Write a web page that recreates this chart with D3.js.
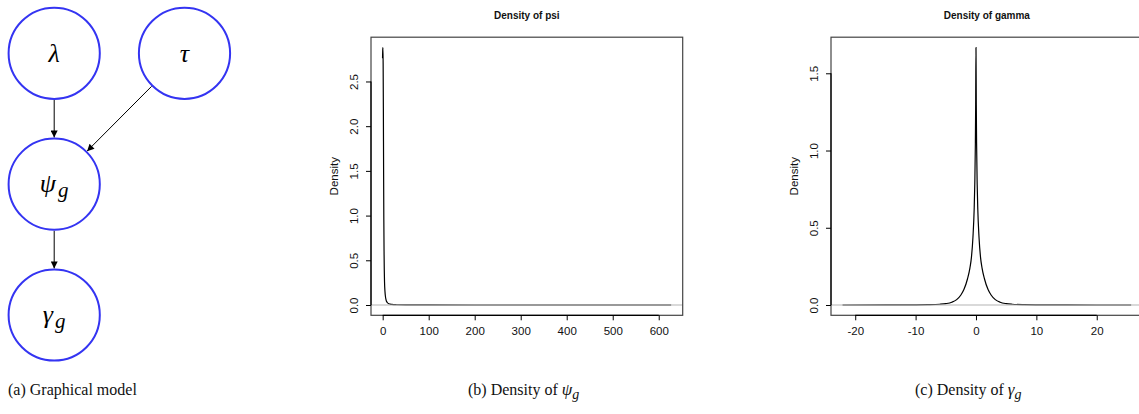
<!DOCTYPE html>
<html>
<head>
<meta charset="utf-8">
<script src="https://cdn.jsdelivr.net/npm/d3@7"></script>
<style>
  html, body { margin: 0; padding: 0; background: #fff; }
  svg { display: block; }
</style>
</head>
<body>
<svg id="fig" width="1139" height="414"></svg>
<script>
// ---- Graphical model ----
const nodeNames = ["lambda", "tau", "psi", "gamma"];
const nodeSymbols = ["λ", "τ", "ψ", "γ"];
const nodeSubscripts = ["", "", "g", "g"];
const nodeCol = [0, 1, 0, 0];
const nodeRow = [0, 0, 1, 2];
const edgeFrom = ["lambda", "tau", "psi"];
const edgeTo = ["psi", "psi", "gamma"];

// ---- Density of psi ----
const psiX = [-0.3, 0.2, 0.6, 1, 1.5, 2, 2.5, 3, 4, 5, 6, 7, 8, 10, 12, 16, 20, 30, 50, 100, 200, 300, 400, 500, 627];
const psiY = [2.76, 2.86, 2.88, 2.7, 2.2, 1.5, 0.95, 0.6, 0.26, 0.15, 0.095, 0.065, 0.045, 0.028, 0.018, 0.01, 0.006, 0.003, 0.0012, 0.0003, 0.0001, 0.00005, 0.00003, 0.00002, 0.00001];
const psiXTicks = [0, 100, 200, 300, 400, 500, 600];
const psiYTicks = [0, 0.5, 1, 1.5, 2, 2.5];

// ---- Density of gamma ----
const gammaX = [-22.1, -15, -10, -8, -6, -5, -4, -3.2, -2.5, -2, -1.4, -1, -0.75, -0.5, -0.3, -0.2, -0.1, -0.05, 0,
                0.05, 0.1, 0.2, 0.3, 0.5, 0.75, 1, 1.4, 2, 2.5, 3.2, 4, 5, 6, 8, 10, 15, 20, 25.7];
const gammaY = [0, 0.0003, 0.001, 0.002, 0.005, 0.009, 0.018, 0.035, 0.065, 0.1, 0.17, 0.24, 0.31, 0.44, 0.62, 0.78, 1.05, 1.3, 1.667,
                1.3, 1.05, 0.78, 0.62, 0.44, 0.31, 0.24, 0.17, 0.1, 0.065, 0.035, 0.018, 0.009, 0.005, 0.002, 0.001, 0.0003, 0.0001, 0];
const gammaXTicks = [-20, -10, 0, 10, 20];
const gammaYTicks = [0, 0.5, 1, 1.5];

const captions = ["(a) Graphical model", "(b) Density of ", "(c) Density of "];

const svg = d3.select("#fig");

// ===== Panel (a): graphical model =====
const gm = svg.append("g");
const colX = d3.scalePoint().domain([0, 1]).range([54.2, 184.5]);
const rowY = d3.scalePoint().domain([0, 1, 2]).range([53.3, 315]);
const R = 45.6;
const nodes = nodeNames.map((n, i) => ({
  name: n, sym: nodeSymbols[i], sub: nodeSubscripts[i],
  x: colX(nodeCol[i]), y: rowY(nodeRow[i])
}));
const byName = Object.fromEntries(nodes.map(d => [d.name, d]));

svg.append("defs").append("marker")
  .attr("id", "arrow")
  .attr("viewBox", "0 0 10 10")
  .attr("refX", 10).attr("refY", 5)
  .attr("markerUnits", "userSpaceOnUse")
  .attr("markerWidth", 9).attr("markerHeight", 7)
  .attr("orient", "auto")
  .append("path").attr("d", "M0,0 L10,5 L0,10 z").attr("fill", "#000");

edgeFrom.forEach((f, i) => {
  const a = byName[f], b = byName[edgeTo[i]];
  const dx = b.x - a.x, dy = b.y - a.y, L = Math.hypot(dx, dy);
  const ux = dx / L, uy = dy / L;
  gm.append("line")
    .attr("x1", a.x + ux * (R + 1)).attr("y1", a.y + uy * (R + 1))
    .attr("x2", b.x - ux * (R + 1)).attr("y2", b.y - uy * (R + 1))
    .attr("stroke", "#000").attr("stroke-width", 1)
    .attr("marker-end", "url(#arrow)");
});

const ng = gm.selectAll("g.node").data(nodes).enter().append("g")
  .attr("transform", d => `translate(${d.x},${d.y})`);
ng.append("circle").attr("r", R)
  .attr("fill", "#fff").attr("stroke", "#3434f2").attr("stroke-width", 2);
const lbl = ng.append("text")
  .attr("text-anchor", "middle")
  .attr("font-family", "'Liberation Serif', 'DejaVu Serif', serif")
  .attr("font-style", "italic")
  .attr("font-size", 26)
  .attr("dy", "0.32em");
lbl.append("tspan").text(d => d.sym);
lbl.filter(d => d.sub).append("tspan")
  .attr("font-size", 21).attr("dy", 5).attr("dx", 2)
  .text(d => d.sub);

// ===== Density panels =====
function densityPanel(opts) {
  const { xs, ys, xTicks, yTicks, left, width, top, bottom, title } = opts;
  const g = svg.append("g");
  const xExt = d3.extent(xs), yMax = d3.max(ys);
  const xr = xExt[1] - xExt[0];
  const x = d3.scaleLinear()
    .domain([xExt[0] - 0.04 * xr, xExt[1] + 0.04 * xr])
    .range([left, left + width]);
  const y = d3.scaleLinear()
    .domain([-0.04 * yMax, yMax * 1.04])
    .range([bottom, top]);

  // curve
  const pts = xs.map((v, i) => [v, ys[i]]);
  g.append("path")
    .attr("d", d3.line().x(d => x(d[0])).y(d => y(d[1])).curve(d3.curveMonotoneX)(pts))
    .attr("fill", "none").attr("stroke", "#000").attr("stroke-width", 1.2);

  // zero line on top of the curve
  g.append("line")
    .attr("x1", left).attr("x2", left + width)
    .attr("y1", y(0)).attr("y2", y(0))
    .attr("stroke", "#b4b4b4").attr("stroke-width", 1.2);

  // box
  g.append("rect")
    .attr("x", left).attr("y", top)
    .attr("width", width).attr("height", bottom - top)
    .attr("fill", "none").attr("stroke", "#444").attr("stroke-width", 1.2);

  // x axis
  const xa = g.append("g").attr("transform", `translate(0,${bottom})`)
    .call(d3.axisBottom(x).tickValues(xTicks).tickSize(5).tickPadding(7).tickFormat(d3.format("d")));
  xa.select(".domain").attr("d", `M${x(xTicks[0])},0H${x(xTicks[xTicks.length - 1])}`)
    .attr("stroke", "#000").attr("stroke-width", 1.2);
  xa.selectAll("text")
    .attr("font-family", "'Liberation Sans', Arial, sans-serif")
    .attr("font-size", 11.5).attr("fill", "#111")
    .text(d => d < 0 ? "-" + Math.abs(d) : d);

  // y axis
  const ya = g.append("g").attr("transform", `translate(${left},0)`)
    .call(d3.axisLeft(y).tickValues(yTicks).tickSize(5).tickFormat(d3.format(".1f")));
  ya.select(".domain").attr("d", `M0,${y(yTicks[0])}V${y(yTicks[yTicks.length - 1])}`)
    .attr("stroke", "#000").attr("stroke-width", 1.2);
  ya.selectAll(".tick text")
    .attr("font-family", "'Liberation Sans', Arial, sans-serif")
    .attr("font-size", 11.5).attr("fill", "#111")
    .attr("text-anchor", "middle")
    .attr("x", null).attr("dy", null)
    .attr("transform", "translate(-17.5,0) rotate(-90)")
    .attr("y", 0).attr("dominant-baseline", "central");

  // y label
  g.append("text")
    .attr("transform", `translate(${left - 37.5},${(top + bottom) / 2}) rotate(-90)`)
    .attr("text-anchor", "middle").attr("dominant-baseline", "central")
    .attr("font-family", "'Liberation Sans', Arial, sans-serif")
    .attr("font-size", 11.5).attr("fill", "#111")
    .text("Density");

  // title
  g.append("text")
    .attr("x", left + width / 2).attr("y", 19)
    .attr("text-anchor", "middle")
    .attr("font-family", "'Liberation Sans', Arial, sans-serif")
    .attr("font-weight", "bold").attr("font-size", 10).attr("fill", "#111")
    .text(title);
}

densityPanel({ xs: psiX, ys: psiY, xTicks: psiXTicks, yTicks: psiYTicks,
  left: 371, width: 311.7, top: 37.2, bottom: 315.3, title: "Density of psi" });
densityPanel({ xs: gammaX, ys: gammaY, xTicks: gammaXTicks, yTicks: gammaYTicks,
  left: 831, width: 311.7, top: 37.2, bottom: 315.3, title: "Density of gamma" });

// ===== Captions =====
const capFont = "'Liberation Serif', 'DejaVu Serif', serif";
const capX = [8, 468, 915];
const capSym = [null, "ψ", "γ"];
captions.forEach((c, i) => {
  const t = svg.append("text")
    .attr("x", capX[i]).attr("y", 395)
    .attr("font-family", capFont).attr("font-size", 16).attr("fill", "#111");
  t.append("tspan").text(c);
  if (capSym[i]) {
    t.append("tspan").attr("font-style", "italic").attr("font-size", 17).text(capSym[i]);
    t.append("tspan").attr("font-style", "italic").attr("font-size", 14).attr("dy", 4).text("g");
  }
});
</script>
</body>
</html>
